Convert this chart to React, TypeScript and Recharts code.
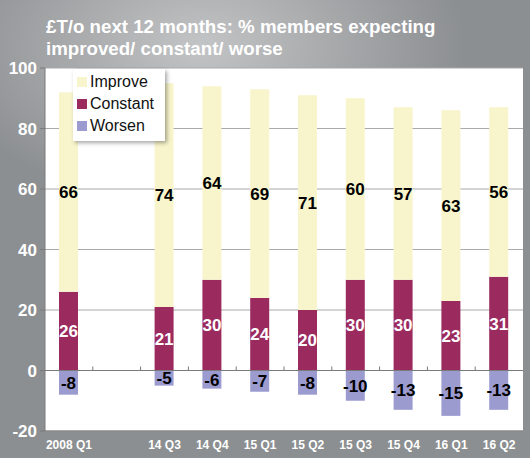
import {Bar, BarChart, CartesianGrid, LabelList, Legend, ReferenceLine, XAxis, YAxis} from 'recharts';

const quarters = ['2008 Q1', '', '14 Q3', '14 Q4', '15 Q1', '15 Q2', '15 Q3', '15 Q4', '16 Q1', '16 Q2'];
const constant = [26, null, 21, 30, 24, 20, 30, 30, 23, 31];
const improve = [66, null, 74, 64, 69, 71, 60, 57, 63, 56];
const worsen = [-8, null, -5, -6, -7, -8, -10, -13, -15, -13];
const yTicks = [-20, 0, 20, 40, 60, 80, 100];

const legendItems = [
    {name: 'Improve', color: '#f8f5cc'},
    {name: 'Constant', color: '#9b2a5f'},
    {name: 'Worsen', color: '#9c9bd0'},
];

const data = quarters.map((q, i) => ({
    quarter: q,
    constant: constant[i],
    improve: improve[i],
    worsen: worsen[i],
}));

const labelFont = '"Liberation Sans Narrow", "Arial Narrow", Arial, sans-serif';

const LegendBox = () => (
    <div style={{
        background: '#fff',
        boxShadow: '2px 2px 4px rgba(0,0,0,0.35)',
        padding: '2px 6px 4px 4px',
        width: 82,
        fontFamily: labelFont,
        fontSize: 16,
        color: '#111',
    }}>
        {legendItems.map(item => (
            <div key={item.name} style={{display: 'flex', alignItems: 'center', height: 22}}>
                <span style={{width: 10, height: 10, background: item.color, marginRight: 3, display: 'inline-block'}}/>
                {item.name}
            </div>
        ))}
    </div>
);

// zero line drawn like an excel category axis, with ticks between categories
const ZeroAxis = (props: any) => {
    const {x1, x2, y1} = props;
    const step = (x2 - x1) / quarters.length;
    return (
        <g stroke="#7a7a7a" strokeWidth={1}>
            <line x1={x1 - 5} x2={x2} y1={y1} y2={y1}/>
            {quarters.slice(1).map((_, i) => (
                <line key={i} x1={x1 + step * (i + 1)} x2={x1 + step * (i + 1)} y1={y1} y2={y1 - 4}/>
            ))}
        </g>
    );
};

export default function App() {
    return (
        <div style={{
            position: 'absolute', left: 0, top: 0, width: 530, height: 458,
            background: 'radial-gradient(ellipse 50% 35% at 38% 10%, #c3c4c6 0%, #a7a9ab 50%, #8c8f91 100%)',
            fontFamily: 'Arial, "Liberation Sans", sans-serif',
        }}>
            <div style={{
                position: 'absolute', left: 46, top: 16, color: '#fff', fontWeight: 'bold',
                fontSize: 18.7, lineHeight: '22px',
            }}>
                £T/o next 12 months: % members expecting<br/>improved/ constant/ worse
            </div>
            <BarChart width={530} height={458} data={data} stackOffset="sign" barSize={19}
                      margin={{top: 68, right: 7, bottom: 0, left: 0}}>
                <CartesianGrid vertical={false} fill="#fff" stroke="#a9a9a9"/>
                <XAxis dataKey="quarter" height={27} tickLine={false} axisLine={{stroke: '#7a7a7a'}}
                       tick={{fill: '#fff', fontSize: 12, fontWeight: 'bold'}} tickMargin={3} interval={0}/>
                <YAxis width={45} domain={[-20, 100]} ticks={yTicks} allowDataOverflow
                       tickSize={5} tickMargin={3} tickLine={{stroke: '#7a7a7a'}} axisLine={{stroke: '#7a7a7a'}}
                       tick={{fill: '#fff', fontSize: 17, fontWeight: 'bold'}}/>
                <Legend content={<LegendBox/>} layout="vertical" align="center" verticalAlign="middle"
                        wrapperStyle={{left: 73, top: 69, width: 'auto'}}/>
                <Bar dataKey="constant" name="Constant" stackId="a" fill="#9b2a5f" isAnimationActive={false}>
                    <LabelList dataKey="constant" position="center" fill="#fff"
                               style={{fontSize: 17, fontWeight: 'bold', fontFamily: labelFont}}/>
                </Bar>
                <Bar dataKey="improve" name="Improve" stackId="a" fill="#f8f5cc" isAnimationActive={false}>
                    <LabelList dataKey="improve" position="center" fill="#000"
                               style={{fontSize: 17, fontWeight: 'bold', fontFamily: labelFont}}/>
                </Bar>
                <Bar dataKey="worsen" name="Worsen" stackId="a" fill="#9c9bd0" isAnimationActive={false}>
                    <LabelList dataKey="worsen" position="center" fill="#000"
                               style={{fontSize: 17, fontWeight: 'bold', fontFamily: labelFont}}/>
                </Bar>
                <ReferenceLine y={0} shape={ZeroAxis}/>
            </BarChart>
        </div>
    );
}
